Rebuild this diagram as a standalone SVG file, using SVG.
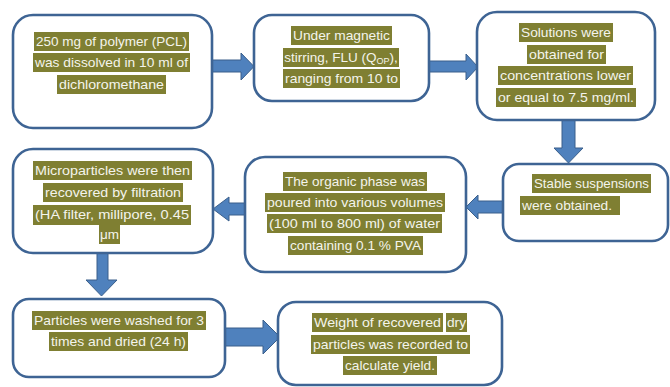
<svg xmlns="http://www.w3.org/2000/svg" width="670" height="387" viewBox="0 0 670 387">
<style>
.box{fill:#FFFFFF;stroke:#3E6494;stroke-width:2.6}
.hl{fill:#7F7F32}
.t{font-family:"Liberation Sans",Arial,sans-serif;font-size:13.5px;fill:#F4F4EC}
.c{text-anchor:middle}
.arr{fill:#4F81BD;stroke:#3A5F8B;stroke-width:1}
</style>
<rect width="670" height="387" fill="#FFFFFF"/>
<g id="connectors">
<polygon class="arr" points="212,60 241,60 241,53 254,66.5 241,80 241,72 212,72"/>
<polygon class="arr" points="429,61 466,61 466,54 478,67 466,80 466,72 429,72"/>
<polygon class="arr" points="562,120 575,120 575,148 583,148 568.5,163 554,148 562,148"/>
<polygon class="arr" points="503,201 478,201 478,195 466,207 478,219 478,213 503,213"/>
<polygon class="arr" points="245,203 229,203 229,197 213,209 229,221 229,215 245,215"/>
<polygon class="arr" points="97,253 108,253 108,280 117,280 101.5,296 86,280 97,280"/>
<polygon class="arr" points="225,328 263,328 263,320 280,337 263,354 263,346 225,346"/>
</g>
<g id="n1">
<rect class="box" x="13" y="15" width="199" height="113" rx="20"/>
<rect class="hl" x="34" y="32" width="155" height="19"/>
<rect class="hl" x="33" y="53" width="157" height="19"/>
<rect class="hl" x="57" y="75" width="109" height="19"/>
<text class="t c" x="111.5" y="46" textLength="151" lengthAdjust="spacingAndGlyphs">250 mg of polymer (PCL)</text>
<text class="t c" x="111.5" y="67" textLength="153" lengthAdjust="spacingAndGlyphs">was dissolved in 10 ml of</text>
<text class="t c" x="111.5" y="89" textLength="105" lengthAdjust="spacingAndGlyphs">dichloromethane</text>
</g>
<g id="n2">
<rect class="box" x="254" y="15" width="175" height="86" rx="18"/>
<rect class="hl" x="291" y="26" width="101" height="19"/>
<rect class="hl" x="283" y="48" width="116" height="19"/>
<rect class="hl" x="283" y="69" width="117" height="19"/>
<text class="t c" x="341.5" y="40" textLength="97" lengthAdjust="spacingAndGlyphs">Under magnetic</text>
<text class="t c" x="341" y="62">stirring, FLU (Q<tspan font-size="9" dy="2">OP</tspan><tspan dy="-2">),</tspan></text>
<text class="t c" x="341.5" y="83" textLength="113" lengthAdjust="spacingAndGlyphs">ranging from 10 to</text>
</g>
<g id="n3">
<rect class="box" x="477" y="12" width="178" height="108" rx="20"/>
<rect class="hl" x="519" y="23" width="94" height="19"/>
<rect class="hl" x="527" y="45" width="79" height="19"/>
<rect class="hl" x="498" y="66" width="135" height="19"/>
<rect class="hl" x="496" y="88" width="140" height="19"/>
<text class="t c" x="566" y="37" textLength="90" lengthAdjust="spacingAndGlyphs">Solutions were</text>
<text class="t c" x="566.5" y="59" textLength="75" lengthAdjust="spacingAndGlyphs">obtained for</text>
<text class="t c" x="565.5" y="80" textLength="131" lengthAdjust="spacingAndGlyphs">concentrations lower</text>
<text class="t c" x="566" y="102" textLength="136" lengthAdjust="spacingAndGlyphs">or equal to 7.5 mg/ml.</text>
</g>
<g id="n4">
<rect class="box" x="503" y="164" width="165" height="77" rx="16"/>
<rect class="hl" x="532" y="174" width="119" height="19"/>
<rect class="hl" x="520" y="196" width="100" height="19"/>
<text class="t" x="534" y="188" textLength="115" lengthAdjust="spacingAndGlyphs">Stable suspensions</text>
<text class="t" x="522" y="210" textLength="90" lengthAdjust="spacingAndGlyphs">were obtained.</text>
</g>
<g id="n5">
<rect class="box" x="245" y="157" width="221" height="115" rx="20"/>
<rect class="hl" x="283" y="172" width="144" height="19"/>
<rect class="hl" x="265" y="193" width="180" height="19"/>
<rect class="hl" x="267" y="214" width="175" height="19"/>
<rect class="hl" x="288" y="236" width="135" height="19"/>
<text class="t c" x="355" y="186" textLength="140" lengthAdjust="spacingAndGlyphs">The organic phase was</text>
<text class="t c" x="355" y="207" textLength="176" lengthAdjust="spacingAndGlyphs">poured into various volumes</text>
<text class="t c" x="354.5" y="228" textLength="171" lengthAdjust="spacingAndGlyphs">(100 ml to 800 ml) of water</text>
<text class="t c" x="355.5" y="250" textLength="131" lengthAdjust="spacingAndGlyphs">containing 0.1 % PVA</text>
</g>
<g id="n6">
<rect class="box" x="13" y="149" width="200" height="104" rx="20"/>
<rect class="hl" x="33" y="161" width="159" height="19"/>
<rect class="hl" x="43" y="183" width="140" height="19"/>
<rect class="hl" x="33" y="205" width="158" height="20"/>
<rect class="hl" x="99" y="225" width="21" height="19"/>
<text class="t c" x="112.5" y="175" textLength="155" lengthAdjust="spacingAndGlyphs">Microparticles were then</text>
<text class="t c" x="113" y="197" textLength="136" lengthAdjust="spacingAndGlyphs">recovered by filtration</text>
<text class="t c" x="112" y="219" textLength="154" lengthAdjust="spacingAndGlyphs">(HA filter, millipore, 0.45</text>
<text class="t c" x="109.5" y="239">μm</text>
</g>
<g id="n7">
<rect class="box" x="13" y="299" width="212" height="78" rx="16"/>
<rect class="hl" x="32" y="311" width="174" height="19"/>
<rect class="hl" x="49" y="332" width="139" height="19"/>
<text class="t c" x="119" y="325" textLength="170" lengthAdjust="spacingAndGlyphs">Particles were washed for 3</text>
<text class="t c" x="118.5" y="346" textLength="135" lengthAdjust="spacingAndGlyphs">times and dried (24 h)</text>
</g>
<g id="n8">
<rect class="box" x="278" y="302" width="224" height="83" rx="18"/>
<rect class="hl" x="312" y="313" width="131" height="19"/>
<rect class="hl" x="446" y="313" width="21" height="19"/>
<rect class="hl" x="311" y="335" width="159" height="19"/>
<rect class="hl" x="343" y="356" width="94" height="19"/>
<text class="t" x="314" y="327" textLength="127" lengthAdjust="spacingAndGlyphs">Weight of recovered</text>
<text class="t" x="447" y="327" textLength="19" lengthAdjust="spacingAndGlyphs">dry</text>
<text class="t c" x="390.5" y="349" textLength="155" lengthAdjust="spacingAndGlyphs">particles was recorded to</text>
<text class="t c" x="390" y="370" textLength="90" lengthAdjust="spacingAndGlyphs">calculate yield.</text>
</g>
</svg>
